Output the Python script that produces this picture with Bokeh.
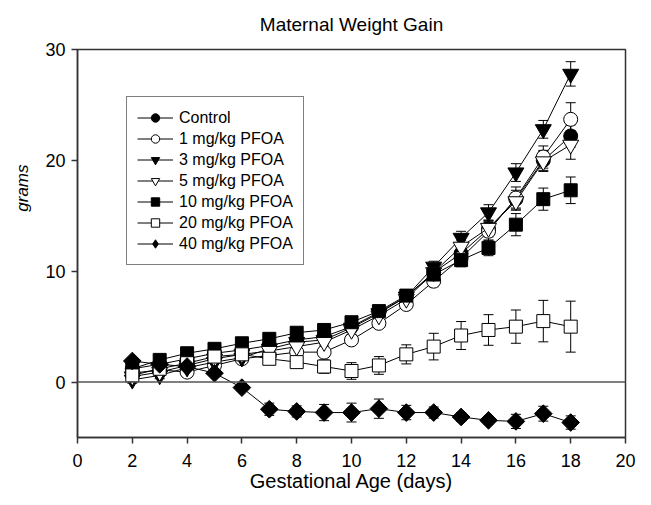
import numpy as np
from math import pi
from bokeh.plotting import figure
from bokeh.models import (ColumnDataSource, Whisker, TeeHead, Span, Legend, LegendItem,
                          FixedTicker, Title, Range1d)
from bokeh.embed import file_html
from bokeh.resources import INLINE

days = list(range(2, 19))

control = [1.2, 1.6, 2.1, 2.6, 2.9, 3.3, 3.8, 4.1, 5.0, 6.3, 7.7, 9.9, 11.6, 13.8, 16.5, 20.0, 22.2]
control_err = [0.3, 0.3, 0.3, 0.3, 0.3, 0.35, 0.4, 0.4, 0.4, 0.4, 0.4, 0.5, 0.6, 0.7, 0.8, 0.9, 1.0]

pfoa1 = [0.8, 1.1, 0.9, 1.5, 2.1, 2.4, 2.7, 2.7, 3.8, 5.3, 7.0, 9.1, 11.2, 13.6, 16.6, 20.3, 23.7]
pfoa1_err = [0.3, 0.3, 0.3, 0.3, 0.3, 0.3, 0.3, 0.3, 0.4, 0.4, 0.4, 0.5, 0.6, 0.8, 1.0, 1.0, 1.5]

pfoa3 = [0.2, 0.6, 1.3, 1.8, 2.2, 3.0, 3.6, 3.8, 4.9, 6.2, 7.7, 10.4, 13.0, 15.3, 18.9, 22.8, 27.8]
pfoa3_err = [0.3, 0.3, 0.3, 0.3, 0.3, 0.3, 0.3, 0.35, 0.4, 0.4, 0.4, 0.5, 0.6, 0.7, 0.8, 0.8, 1.1]

pfoa5 = [0.5, 0.9, 1.5, 2.1, 2.5, 2.8, 3.2, 3.6, 4.7, 6.0, 7.5, 9.9, 12.2, 13.9, 16.3, 19.9, 21.4]
pfoa5_err = [0.3, 0.3, 0.3, 0.3, 0.3, 0.3, 0.3, 0.35, 0.4, 0.4, 0.4, 0.5, 0.6, 0.7, 0.8, 0.9, 1.3]

pfoa10 = [1.2, 2.0, 2.6, 3.0, 3.5, 3.9, 4.45, 4.7, 5.4, 6.4, 7.8, 9.7, 11.0, 12.1, 14.2, 16.5, 17.3]
pfoa10_err = [0.3, 0.3, 0.3, 0.3, 0.3, 0.3, 0.3, 0.35, 0.4, 0.4, 0.4, 0.5, 0.6, 0.7, 1.0, 1.0, 1.2]

pfoa20 = [0.6, 1.2, 1.7, 2.3, 2.5, 2.1, 1.8, 1.4, 1.0, 1.5, 2.5, 3.2, 4.2, 4.7, 5.0, 5.5, 5.0]
pfoa20_err = [0.3, 0.3, 0.3, 0.3, 0.3, 0.3, 0.4, 0.6, 0.75, 0.8, 0.86, 1.2, 1.26, 1.38, 1.5, 1.87, 2.3]

pfoa40 = [1.9, 1.6, 1.4, 0.8, -0.5, -2.45, -2.65, -2.75, -2.75, -2.4, -2.75, -2.75, -3.15, -3.45, -3.55, -2.85, -3.65]
pfoa40_err = [0.3, 0.3, 0.3, 0.3, 0.35, 0.55, 0.5, 0.73, 0.85, 0.87, 0.65, 0.5, 0.4, 0.35, 0.64, 0.67, 0.6]

labels = ["Control", "1 mg/kg PFOA", "3 mg/kg PFOA", "5 mg/kg PFOA",
          "10 mg/kg PFOA", "20 mg/kg PFOA", "40 mg/kg PFOA"]
x_ticks = [0, 2, 4, 6, 8, 10, 12, 14, 16, 18, 20]
y_ticks = [0, 10, 20, 30]

# (values, errors, marker, fill, size, angle, legend marker, legend size)
series = [
    (control, control_err, "circle", "black", 14, 0.0, "circle", 14),
    (pfoa1, pfoa1_err, "circle", "white", 14, 0.0, "circle", 14),
    (pfoa3, pfoa3_err, "inverted_triangle", "black", 16, 0.0, "inverted_triangle", 16),
    (pfoa5, pfoa5_err, "inverted_triangle", "white", 16, 0.0, "inverted_triangle", 16),
    (pfoa10, pfoa10_err, "square", "black", 13, 0.0, "square", 13),
    (pfoa20, pfoa20_err, "square", "white", 13, 0.0, "square", 13),
    (pfoa40, pfoa40_err, "square", "black", 12.5, pi / 4, "diamond", 20),
]

FONT = "Liberation Sans"
AX = "#333333"
W, H = 640, 497

p = figure(width=W, height=H, output_backend="svg", toolbar_location=None,
           x_range=Range1d(0, 20), y_range=Range1d(-5, 30),
           min_border_left=77, min_border_right=15, min_border_top=49, min_border_bottom=60)

p.title.text = "Maternal Weight Gain"
p.title.align = "center"
p.title.vertical_align = "top"
p.title.text_font = FONT
p.title.text_font_size = "19px"
p.title.text_font_style = "normal"
p.title.text_color = "black"
p.title.standoff = 26

p.xgrid.visible = False
p.ygrid.visible = False
p.outline_line_color = AX
p.outline_line_width = 1.5

for ax in (p.xaxis[0], p.yaxis[0]):
    ax.axis_line_color = AX
    ax.axis_line_width = 1.5
    ax.major_tick_line_color = AX
    ax.major_tick_line_width = 1.5
    ax.major_tick_out = 6
    ax.major_tick_in = 0
    ax.minor_tick_line_color = None
    ax.major_label_text_font = FONT
    ax.major_label_text_font_size = "18px"
    ax.major_label_text_color = "black"

p.xaxis.major_label_standoff = 10
p.yaxis.major_label_standoff = 6
p.xaxis.ticker = FixedTicker(ticks=x_ticks)
p.yaxis.ticker = FixedTicker(ticks=y_ticks)
p.xaxis.axis_label = "Gestational Age (days)"
p.xaxis.axis_label_text_font = FONT
p.xaxis.axis_label_text_font_size = "20px"
p.xaxis.axis_label_text_font_style = "normal"
p.xaxis.axis_label_text_color = "black"
p.xaxis.axis_label_standoff = 0

p.add_layout(Span(location=0, dimension="width", line_color="#555555", line_width=1.5))

items = []
for (vals, errs, marker, fill, size, ang, lmarker, lsize), lab in zip(series, labels):
    v = np.array(vals)
    e = np.array(errs)
    src = ColumnDataSource(dict(x=days, y=v, upper=v + e, lower=v - e))
    w = Whisker(base="x", upper="upper", lower="lower", source=src,
                line_color="black", line_width=1,
                upper_head=TeeHead(size=10, line_color="black", line_width=1),
                lower_head=TeeHead(size=10, line_color="black", line_width=1))
    p.add_layout(w)
    lr = p.line("x", "y", source=src, line_color="black", line_width=1)
    mr = p.scatter("x", "y", source=src, marker=marker, size=size, angle=ang,
                   fill_color=fill, line_color="black", line_width=1)
    if lmarker == marker and ang == 0.0:
        rends = [lr, mr]
    else:
        # legend-only glyph (hidden in the plot)
        proxy = p.scatter("x", "y", source=src, marker=lmarker, size=lsize,
                          fill_color=fill, line_color="black", line_width=1,
                          visible=False)
        rends = [lr, proxy]
    items.append(LegendItem(label=lab, renderers=rends))

legend = Legend(items=items, location=(49, 172), orientation="vertical",
                border_line_color="black", border_line_width=1,
                background_fill_color="white", background_fill_alpha=1,
                padding=10, spacing=0, margin=0,
                label_height=21, glyph_height=21, glyph_width=36, label_standoff=6,
                label_text_font=FONT, label_text_font_size="16px", label_text_color="black")
p.add_layout(legend)

ylab = Title(text="grams", align="right", offset=115, standoff=21,
             text_font=FONT, text_font_size="17px", text_font_style="italic",
             text_color="black")
p.add_layout(ylab, "left")

open("out.html", "w").write(file_html(p, INLINE))
